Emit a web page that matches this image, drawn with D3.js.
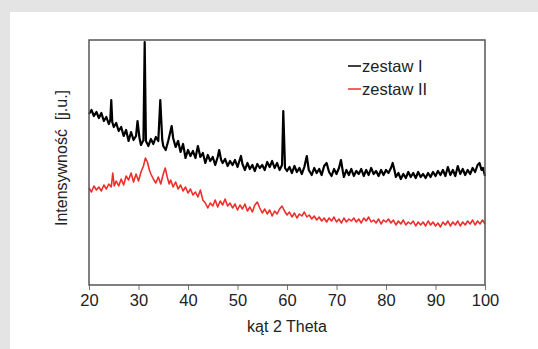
<!DOCTYPE html>
<html>
<head>
<meta charset="utf-8">
<script src="https://cdn.jsdelivr.net/npm/d3@7"></script>
<style>
  html, body { margin: 0; padding: 0; background: #e4e4e4; }
  svg { display: block; }
  text { font-family: "Liberation Sans", Arial, sans-serif; fill: #222; }
</style>
</head>
<body>
<div class="xrdchart"></div>
<script>
// tick labels on the 2-theta axis
const xTicks = [20, 30, 40, 50, 60, 70, 80, 90, 100];

const seriesNames = ['zestaw I', 'zestaw II'];
const seriesColors = ['#000000', '#ec2f2a'];

// [2 theta, intensity (arbitrary units)]
const zestawI = [
  [20, 171], [20.5, 175], [21, 169], [21.5, 173], [22, 167], [22.5, 172], [23, 164], [23.5, 168],
  [24, 161], [24.3, 165], [24.5, 185], [24.7, 163], [25, 158], [25.5, 162], [26, 154], [26.5, 158],
  [27, 149], [27.5, 155], [28, 144], [28.5, 153], [29, 145], [29.5, 149], [29.8, 164], [30.2, 147],
  [30.5, 140], [31, 145], [31.25, 243], [31.5, 144], [32, 139], [32.5, 146], [33, 141], [33.5, 148],
  [34, 144], [34.4, 185], [34.8, 145], [35, 139], [35.5, 135], [36, 144], [36.7, 159], [37, 147],
  [37.5, 138], [38, 144], [38.5, 133], [39, 141], [39.5, 127], [40, 135], [40.5, 129], [41, 134],
  [41.5, 127], [42, 139], [42.5, 128], [43, 132], [43.5, 122], [44, 130], [44.5, 124], [45, 128],
  [45.5, 120], [46, 128], [46.3, 135], [46.7, 125], [47, 122], [47.5, 126], [48, 119], [48.5, 124],
  [49, 120], [49.5, 125], [50, 118], [50.7, 129], [51, 121], [51.5, 115], [52, 122], [52.5, 116],
  [53, 120], [53.5, 114], [54, 121], [54.5, 117], [55, 120], [55.5, 115], [56, 123], [56.5, 118],
  [57, 124], [57.5, 117], [58, 122], [58.5, 115], [59, 120], [59.25, 174], [59.6, 117], [60, 114],
  [60.5, 118], [61, 112], [61.5, 119], [62, 113], [62.5, 117], [63, 111], [63.5, 118], [64, 129],
  [64.4, 115], [65, 110], [65.5, 117], [66, 112], [66.5, 116], [67, 110], [67.5, 119], [68, 122],
  [68.5, 113], [69, 109], [69.5, 116], [70, 111], [70.5, 117], [70.9, 125], [71.3, 113], [71.5, 108],
  [72, 115], [72.5, 110], [73, 116], [73.5, 109], [74, 114], [74.5, 111], [75, 116], [75.5, 109],
  [76, 115], [76.5, 110], [77, 117], [77.5, 111], [78, 114], [78.5, 109], [79, 115], [79.5, 110],
  [80, 115], [80.5, 112], [81, 117], [81.35, 122], [81.7, 115], [82, 108], [82.5, 112], [83, 106],
  [83.5, 111], [84, 107], [84.5, 113], [85, 108], [85.5, 112], [86, 107], [86.5, 113], [87, 108],
  [87.5, 111], [88, 107], [88.5, 112], [89, 108], [89.5, 113], [90, 109], [90.5, 114], [91, 110],
  [91.5, 115], [92, 109], [92.5, 118], [93, 110], [93.5, 115], [94, 109], [94.5, 119], [95, 111],
  [95.5, 116], [96, 110], [96.5, 115], [97, 111], [97.5, 117], [98, 113], [98.5, 120], [98.9, 122],
  [99.3, 115], [99.6, 117], [100, 109]
];

const zestawII = [
  [20, 97], [20.5, 93], [21, 99], [21.5, 95], [22, 98], [22.5, 94], [23, 100], [23.5, 96],
  [24, 101], [24.5, 98], [24.8, 112], [25.1, 99], [25.5, 104], [26, 99], [26.5, 106], [27, 100],
  [27.5, 109], [28, 105], [28.5, 112], [29, 103], [29.5, 111], [30, 104], [30.5, 113], [31, 119],
  [31.4, 127], [31.8, 123], [32.2, 115], [32.5, 111], [33, 106], [33.5, 102], [34, 108], [34.5, 101],
  [35, 111], [35.4, 117], [35.8, 108], [36.2, 101], [36.5, 105], [37, 98], [37.5, 103], [38, 96],
  [38.5, 100], [39, 94], [39.5, 98], [40, 92], [40.5, 96], [41, 90], [41.5, 93], [42, 88],
  [42.5, 95], [43, 85], [43.5, 82], [44, 77], [44.5, 82], [45, 79], [45.5, 85], [46, 78],
  [46.5, 84], [47, 80], [47.5, 86], [48, 79], [48.5, 82], [49, 77], [49.5, 81], [50, 75],
  [50.5, 80], [51, 76], [51.5, 81], [52, 74], [52.5, 78], [53, 73], [53.5, 80], [54, 83],
  [54.5, 77], [55, 72], [55.5, 76], [56, 71], [56.5, 75], [57, 69], [57.5, 74], [58, 71],
  [58.5, 76], [59, 79], [59.5, 74], [60, 70], [60.5, 73], [61, 68], [61.5, 72], [62, 67],
  [62.5, 71], [63, 69], [63.5, 73], [64, 68], [64.5, 70], [65, 66], [65.5, 69], [66, 65],
  [66.5, 68], [67, 64], [67.5, 67], [68, 63], [68.5, 67], [69, 64], [69.5, 68], [70, 63],
  [70.5, 66], [71, 62], [71.5, 67], [72, 63], [72.5, 66], [73, 64], [73.5, 67], [74, 63],
  [74.5, 66], [75, 62], [75.5, 67], [76, 64], [76.5, 68], [77, 63], [77.5, 65], [78, 62],
  [78.5, 66], [79, 61], [79.5, 65], [80, 63], [80.5, 66], [81, 62], [81.5, 65], [82, 60],
  [82.5, 64], [83, 61], [83.5, 65], [84, 60], [84.5, 63], [85, 61], [85.5, 64], [86, 59],
  [86.5, 63], [87, 60], [87.5, 63], [88, 59], [88.5, 64], [89, 60], [89.5, 63], [90, 59],
  [90.5, 62], [91, 58], [91.5, 63], [92, 60], [92.5, 64], [93, 59], [93.5, 63], [94, 60],
  [94.5, 64], [95, 59], [95.5, 63], [96, 60], [96.5, 64], [97, 61], [97.5, 65], [98, 60],
  [98.5, 64], [99, 61], [99.5, 65], [100, 61]
];

const width = 538;
const height = 349;
const margin = {top: 40, right: 53, bottom: 64, left: 89};
const plotW = width - margin.left - margin.right;
const plotH = height - margin.top - margin.bottom;

const svg = d3.select('.xrdchart')
  .append('svg')
  .attr('width', width)
  .attr('height', height);

// white card on the grey page
svg.append('rect')
  .attr('x', 10)
  .attr('y', 12)
  .attr('width', width - 10)
  .attr('height', height - 12)
  .attr('fill', '#ffffff');

const g = svg.append('g')
  .attr('transform', 'translate(' + margin.left + ',' + margin.top + ')');

const x = d3.scaleLinear().domain([20, 100]).range([0, plotW]);
const y = d3.scaleLinear().domain([0, 245]).range([plotH, 0]);

const drawLine = d3.line()
  .x(d => x(d[0]))
  .y(d => y(d[1]));

// bottom axis, ticks only outside
const xAxis = g.append('g')
  .attr('transform', 'translate(0,' + plotH + ')')
  .call(d3.axisBottom(x).tickValues(xTicks).tickSize(5).tickPadding(4));

xAxis.select('.domain').remove();
xAxis.selectAll('.tick line').attr('stroke', '#777').attr('stroke-width', 1);
xAxis.selectAll('.tick text')
  .attr('fill', '#222')
  .style('font-size', '16.5px')
  .style('font-family', '"Liberation Sans", Arial, sans-serif');

// series
const series = [zestawI, zestawII];
const widths = [2.2, 1.6];

// draw red first so black sits on top
[1, 0].forEach(i => {
  g.append('path')
    .datum(series[i])
    .attr('fill', 'none')
    .attr('stroke', seriesColors[i])
    .attr('stroke-width', widths[i])
    .attr('stroke-linejoin', 'round')
    .attr('d', drawLine);
});

// plot frame
g.append('rect')
  .attr('width', plotW)
  .attr('height', plotH)
  .attr('fill', 'none')
  .attr('stroke', '#555')
  .attr('stroke-width', 1.5);

// legend
const legend = g.append('g')
  .attr('transform', 'translate(259,26)');

seriesNames.forEach((name, i) => {
  const row = legend.append('g')
    .attr('transform', 'translate(0,' + (i * 23) + ')');
  row.append('line')
    .attr('x1', 0)
    .attr('x2', 13)
    .attr('y1', 0)
    .attr('y2', 0)
    .attr('stroke', seriesColors[i])
    .attr('stroke-width', 1.5);
  row.append('text')
    .attr('x', 14)
    .attr('y', 6)
    .style('font-size', '16.5px')
    .text(name);
});

// axis titles
svg.append('text')
  .attr('text-anchor', 'middle')
  .attr('x', margin.left + plotW / 2)
  .attr('y', 332)
  .style('font-size', '16px')
  .text('kąt 2 Theta');

svg.append('text')
  .attr('text-anchor', 'middle')
  .attr('transform', 'translate(67,158) rotate(-90)')
  .style('font-size', '16px')
  .style('white-space', 'pre')
  .text('Intensywność  [j.u.]');
</script>
</body>
</html>
